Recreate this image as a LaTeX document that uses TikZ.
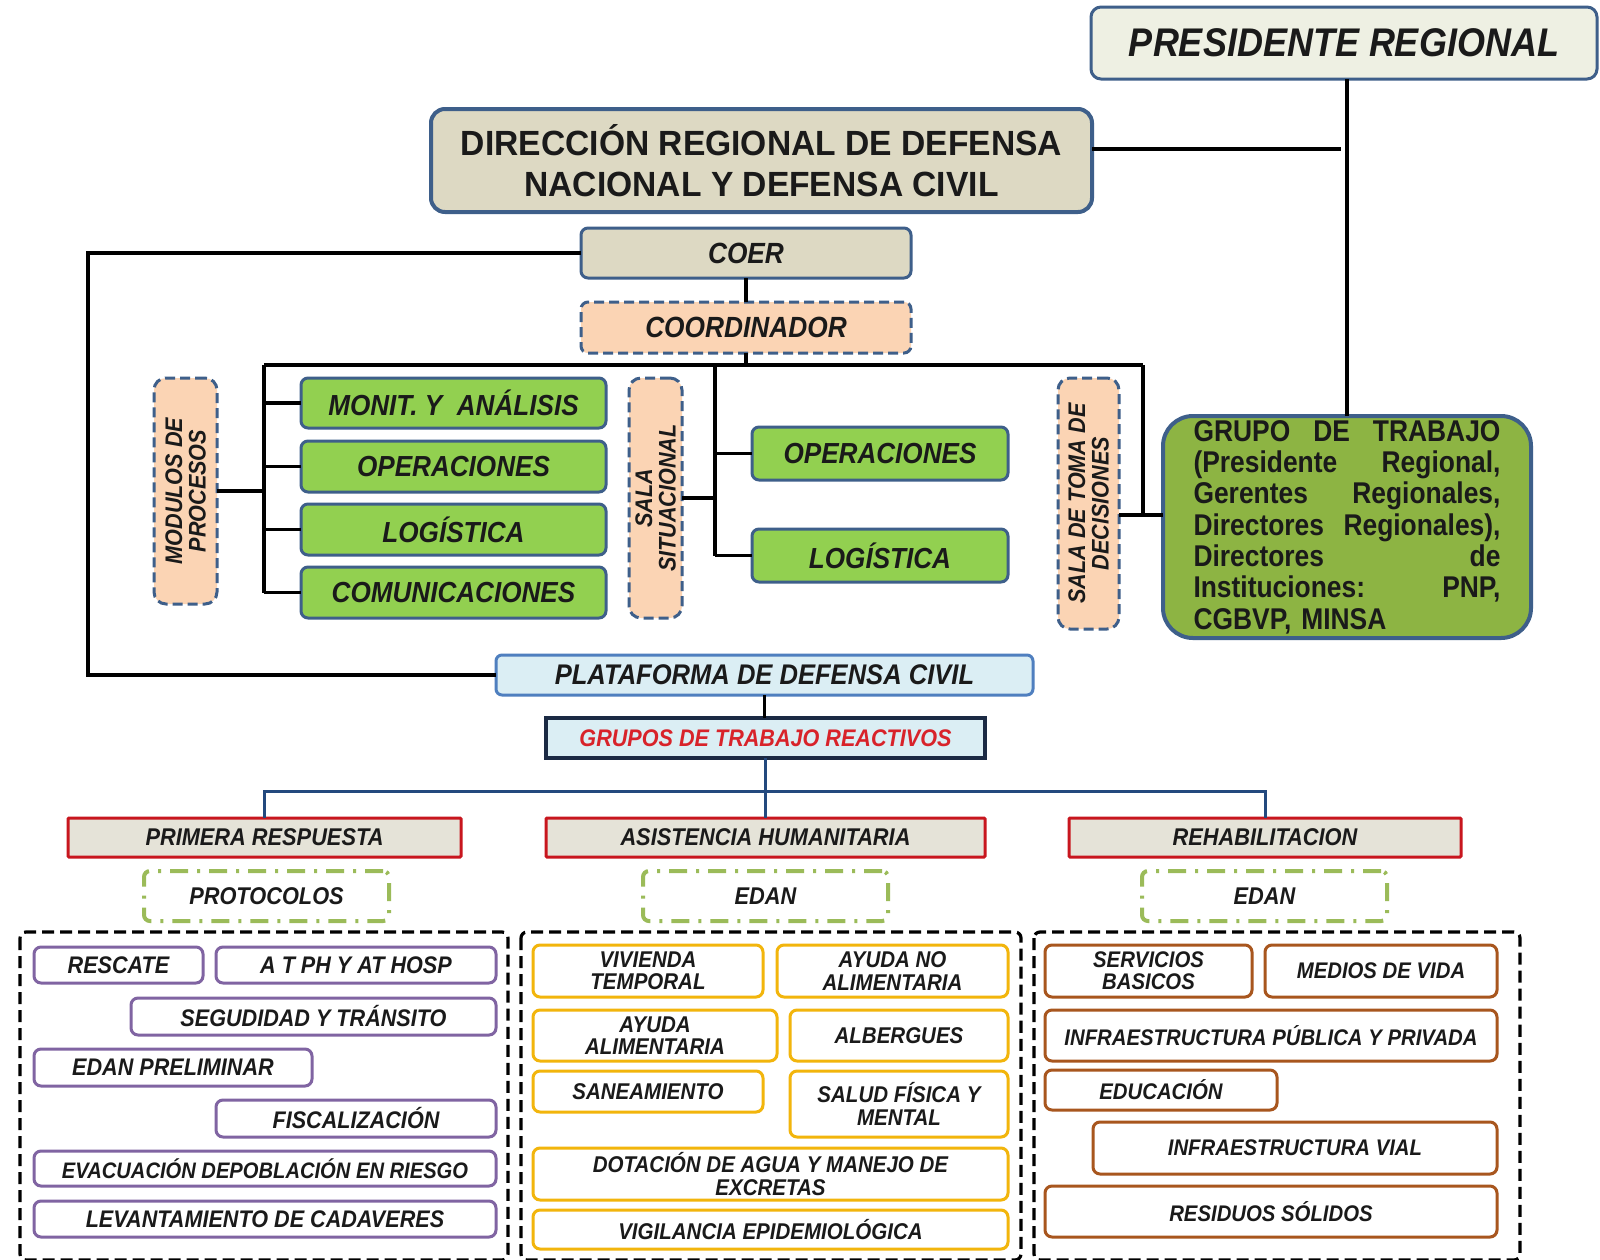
\documentclass[tikz,border=0pt]{standalone}
\usepackage{fontspec}
\setmainfont{Liberation Sans}
\newfontfamily\nar{Liberation Sans}[FakeStretch=0.9]
\newfontfamily\dirf{Liberation Sans}[FakeStretch=0.96]
\newfontfamily\grf{Liberation Sans}[FakeStretch=0.88]
\definecolor{bblue}{HTML}{3E5F8A}
\definecolor{gbox}{HTML}{92D050}
\definecolor{grupo}{HTML}{8DB443}
\definecolor{tan}{HTML}{DDD9C3}
\definecolor{pfill}{HTML}{EEF0E3}
\definecolor{peach}{HTML}{FBD4B4}
\definecolor{pblue}{HTML}{DBEEF4}
\definecolor{pbord}{HTML}{4F7FBF}
\definecolor{reacb}{HTML}{1B2A44}
\definecolor{redb}{HTML}{C8161E}
\definecolor{redfill}{HTML}{E5E3D8}
\definecolor{ddg}{HTML}{9BBB59}
\definecolor{purp}{HTML}{8064A2}
\definecolor{yel}{HTML}{F2B50C}
\definecolor{brn}{HTML}{A8561E}
\definecolor{lblue}{HTML}{23497E}
\definecolor{txt}{HTML}{1A1A1A}
\definecolor{redtxt}{HTML}{D8232A}
% box from corner (x1,y1) to (x2,y2) in pixel units
\newcommand\bx[7]{\node[#1, minimum width={(#4-#2)*0.5pt}, minimum height={(#5-#3)*0.5pt}] (#6) at ({(#2+#4)/2},{(#3+#5)/2}) {#7};}
\newcommand\jl[1]{\makebox[153.5pt][l]{#1}}
\begin{document}
\begin{tikzpicture}[x=0.5pt,y=-0.5pt,
  box/.style={draw, inner sep=0pt, outer sep=0pt, rounded corners=3.5pt, line width=1.5pt, text=txt, align=center},
  ital/.style={font=\nar\bfseries\itshape\fontsize{#1}{#1}\selectfont},
  pres/.style={box, fill=pfill, draw=bblue, rounded corners=5pt, ital=20},
  dirbox/.style={box, fill=tan, draw=bblue, line width=2pt, rounded corners=7pt, font=\dirf\bfseries\fontsize{17.5}{20.5}\selectfont},
  coerbox/.style={box, fill=tan, draw=bblue, ital=14.6},
  coordbox/.style={box, fill=peach, draw=bblue, dash pattern=on 5pt off 2.5pt, ital=14.6},
  strip/.style={box, fill=peach, draw=bblue, dash pattern=on 5pt off 2.5pt, rounded corners=6pt},
  rotlab/.style={rotate=90, align=center, text=txt, inner sep=0pt, font=\nar\bfseries\itshape\fontsize{12}{11.75}\selectfont},
  grn/.style={box, fill=gbox, draw=bblue, ital=14.5},
  grupobox/.style={box, fill=grupo, draw=bblue, line width=2pt, rounded corners=15pt, align=left, text width=153.5pt, font=\grf\bfseries\fontsize{15}{15.65}\selectfont},
  platbox/.style={box, fill=pblue, draw=pbord, rounded corners=3pt, ital=14.2},
  reacbox/.style={box, fill=pblue, draw=reacb, line width=2pt, rounded corners=0pt, text=redtxt, ital=12},
  redbox/.style={box, fill=redfill, draw=redb, rounded corners=0.5pt, ital=12.1},
  ddbox/.style={box, draw=ddg, line width=2pt, rounded corners=3pt, dash pattern=on 9pt off 4.5pt on 1.5pt off 4.5pt, ital=12.1},
  cont/.style={draw=black, line width=1.6pt, dash pattern=on 6pt off 3pt, rounded corners=3pt},
  pur/.style={box, draw=purp, fill=white, ital=12},
  yelb/.style={box, draw=yel, fill=white, font=\nar\bfseries\itshape\fontsize{11.4}{11.2}\selectfont},
  brnb/.style={box, draw=brn, fill=white, font=\nar\bfseries\itshape\fontsize{11.3}{11.2}\selectfont},
  conn/.style={draw=black, line width=1.8pt},
  bconn/.style={draw=lblue, line width=1.5pt}
]
\useasboundingbox (0,0) rectangle (1600,1259);
\fill[white] (0,0) rectangle (1600,1259);

% top
\bx{pres}{1091}{7}{1597}{79}{pres}{PRESIDENTE REGIONAL}
\bx{dirbox}{431}{109}{1092}{212}{dir}{DIRECCIÓN REGIONAL DE DEFENSA\\NACIONAL Y DEFENSA CIVIL}
\bx{coerbox}{581}{228}{911}{278}{coer}{COER}
\bx{coordbox}{581}{302}{911}{353}{coord}{COORDINADOR}

% modules
\bx{strip}{154}{378}{217}{604}{mod}{}
\node[rotlab] (modt) at (mod.center) {MODULOS DE\\PROCESOS};
\bx{grn}{301}{378}{606}{428}{m1}{MONIT. Y\ \ ANÁLISIS}
\bx{grn}{301}{441}{606}{492}{m2}{OPERACIONES}
\bx{grn}{301}{504}{606}{555}{m3}{LOGÍSTICA}
\bx{grn}{301}{567}{606}{618}{m4}{COMUNICACIONES}
\bx{strip}{629}{378}{682}{618}{sit}{}
\node[rotlab] (sitt) at (sit.center) {SALA\\SITUACIONAL};
\bx{grn}{752}{427}{1008}{480}{r1}{OPERACIONES}
\bx{grn}{752}{529}{1008}{582}{r2}{LOGÍSTICA}
\bx{strip}{1058}{378}{1119}{629}{toma}{}
\node[rotlab] (tomat) at (toma.center) {SALA DE TOMA DE\\DECISIONES};
\bx{grupobox}{1163}{416}{1531}{638}{grupo}{\jl{GRUPO\hfill DE\hfill TRABAJO}\\
\jl{(Presidente\hfill Regional,}\\
\jl{Gerentes\hfill Regionales,}\\
\jl{Directores\hfill Regionales),}\\
\jl{Directores\hfill de}\\
\jl{Instituciones:\hfill PNP,}\\
CGBVP, MINSA}

% plataforma
\bx{platbox}{496}{655}{1033}{695}{plat}{PLATAFORMA DE DEFENSA CIVIL}
\bx{reacbox}{546}{718}{985}{758}{reac}{GRUPOS DE TRABAJO REACTIVOS}
\bx{redbox}{68}{818}{461}{857}{pr}{PRIMERA RESPUESTA}
\bx{redbox}{546}{818}{985}{857}{ah}{ASISTENCIA HUMANITARIA}
\bx{redbox}{1069}{818}{1461}{857}{rh}{REHABILITACION}
\bx{ddbox}{144}{871}{389}{921}{proto}{PROTOCOLOS}
\bx{ddbox}{643}{871}{888}{921}{edan1}{EDAN}
\bx{ddbox}{1142}{871}{1387}{921}{edan2}{EDAN}

% containers
\draw[cont] (20,932) rectangle (508,1260);
\draw[cont] (521,932) rectangle (1021,1260);
\draw[cont] (1034,932) rectangle (1520,1260);

% purple
\bx{pur}{34}{947}{203}{983}{p1}{RESCATE}
\bx{pur}{216}{947}{496}{983}{p2}{A T PH Y AT HOSP}
\bx{pur}{131}{998}{496}{1035}{p3}{SEGUDIDAD Y TRÁNSITO}
\bx{pur}{34}{1049}{312}{1086}{p4}{EDAN PRELIMINAR}
\bx{pur}{216}{1100}{496}{1137}{p5}{FISCALIZACIÓN}
\bx{pur,ital=11.2}{34}{1151}{496}{1186}{p6}{EVACUACIÓN DEPOBLACIÓN EN RIESGO}
\bx{pur}{34}{1201}{496}{1237}{p7}{LEVANTAMIENTO DE CADAVERES}

% yellow
\bx{yelb}{533}{945}{763}{997}{y1}{VIVIENDA\\TEMPORAL}
\bx{yelb}{777}{945}{1008}{997}{y2}{AYUDA NO\\ALIMENTARIA}
\bx{yelb}{533}{1010}{777}{1061}{y3}{AYUDA\\ALIMENTARIA}
\bx{yelb}{790}{1010}{1008}{1061}{y4}{ALBERGUES}
\bx{yelb}{533}{1071}{763}{1112}{y5}{SANEAMIENTO}
\bx{yelb}{790}{1071}{1008}{1137}{y6}{SALUD FÍSICA Y\\MENTAL}
\bx{yelb}{533}{1148}{1008}{1200}{y7}{DOTACIÓN DE AGUA Y MANEJO DE\\EXCRETAS}
\bx{yelb}{533}{1210}{1008}{1249}{y8}{VIGILANCIA EPIDEMIOLÓGICA}

% brown
\bx{brnb}{1045}{945}{1252}{997}{b1}{SERVICIOS\\BASICOS}
\bx{brnb}{1265}{945}{1497}{997}{b2}{MEDIOS DE VIDA}
\bx{brnb}{1045}{1010}{1497}{1061}{b3}{INFRAESTRUCTURA PÚBLICA Y PRIVADA}
\bx{brnb}{1045}{1070}{1277}{1110}{b4}{EDUCACIÓN}
\bx{brnb}{1093}{1122}{1497}{1174}{b5}{INFRAESTRUCTURA VIAL}
\bx{brnb}{1045}{1186}{1497}{1237}{b6}{RESIDUOS SÓLIDOS}

% connectors
\coordinate (dj) at (1341,149);
\coordinate (bl) at (264,365);
\coordinate (bm) at (715,365);
\coordinate (br) at (1143,365);
\coordinate (j) at (1143,515);
\coordinate (lp) at (88,253);
\coordinate (bb) at (765,791);

\draw[conn] (grupo.north) -- (grupo.north |- pres.south);
\draw[conn] (dir.east |- dj) -- (dj);
\draw[conn] (coer.south) -- (coord.north);
\draw[conn] (coord.south) -- (coord.south |- bl);
\draw[conn] (bl) -- (br);
\draw[conn] (bl) -- (bl |- m4.west);
\draw[conn] (m1.west -| bl) -- (m1.west);
\draw[conn] (m2.west -| bl) -- (m2.west);
\draw[conn] (m3.west -| bl) -- (m3.west);
\draw[conn] (m4.west -| bl) -- (m4.west);
\draw[conn] (mod.east) -- (mod.east -| bl);
\draw[conn] (bm) -- (bm |- r2.west);
\draw[conn] (r1.west -| bm) -- (r1.west);
\draw[conn] (r2.west -| bm) -- (r2.west);
\draw[conn] (sit.east) -- (sit.east -| bm);
\draw[conn] (br) -- (j);
\draw[conn] (toma.east |- j) -- (grupo.west |- j);
\draw[conn] (coer.west) -- (coer.west -| lp) -- (plat.west -| lp) -- (plat.west);
\draw[conn] (plat.south) -- (plat.south |- reac.north);

\draw[bconn] (reac.south) -- (ah.north);
\draw[bconn] (pr.north) -- (pr.north |- bb) -- (rh.north |- bb) -- (rh.north);
\end{tikzpicture}
\end{document}
